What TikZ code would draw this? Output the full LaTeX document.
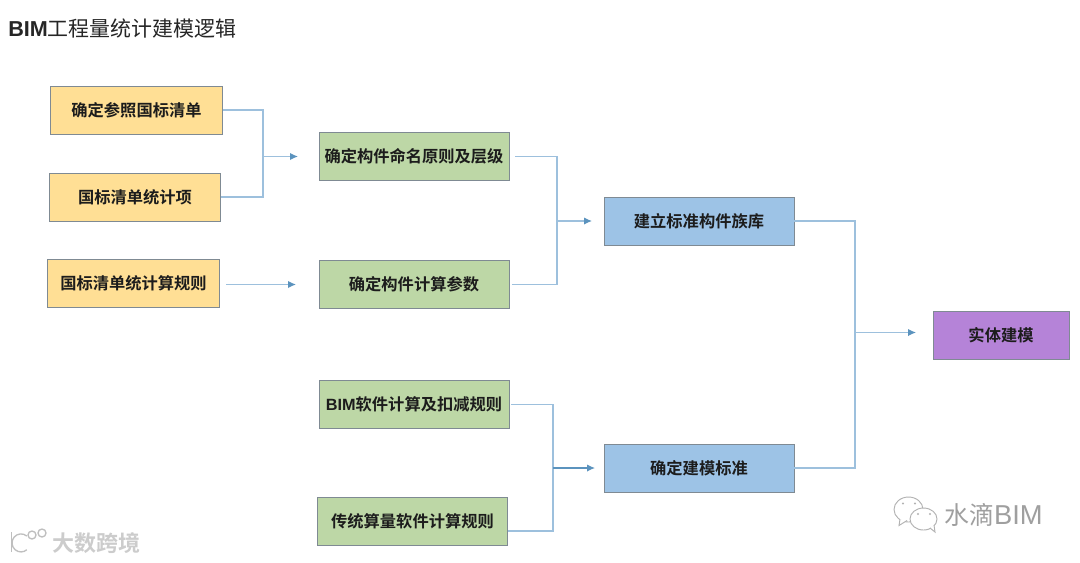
\documentclass[tikz,border=0pt]{standalone}
\usepackage{fontspec}
\setmainfont{Noto Sans CJK SC}
\newfontfamily\latinb{Liberation Sans}[BoldFont={Liberation Sans Bold}]
\newfontfamily\cjkb{Noto Sans CJK SC Bold}
\newfontfamily\cjkr{Noto Sans CJK SC}
\usetikzlibrary{arrows.meta}
\definecolor{yelfill}{HTML}{FFDF95}
\definecolor{grnfill}{HTML}{BDD7A6}
\definecolor{blufill}{HTML}{9DC3E6}
\definecolor{purfill}{HTML}{B583D8}
\definecolor{edgec}{HTML}{7F8A93}
\definecolor{linec}{HTML}{9DC0DD}
\definecolor{tipc}{HTML}{5B93BE}
\definecolor{txt}{HTML}{1C1C1C}
\tikzset{
  x=0.75pt,y=-0.75pt,
  boxbase/.style={draw=edgec,line width=0.7pt,inner sep=0pt,minimum height=36pt,font=\cjkb\fontsize{12.2pt}{14pt}\selectfont,text=txt},
  yel/.style={boxbase,fill=yelfill,minimum width=128.5pt},
  grn/.style={boxbase,fill=grnfill,minimum width=142.5pt},
  blu/.style={boxbase,fill=blufill,minimum width=142.5pt},
  pur/.style={boxbase,fill=purfill,minimum width=102pt},
  link/.style={draw=linec,line width=0.9pt},
  arrowlink/.style={link,-{Latex[length=6pt,width=5.5pt,color=tipc]}},
  wmtext/.style={inner sep=0pt,text=gray!75},
}
\begin{document}
\begin{tikzpicture}
\useasboundingbox (0,0) rectangle (1080,562);
\fill[white] (0,0) rectangle (1080,562);
\node[anchor=west,inner sep=0pt,text=black!85] (title) at (8,28) {{\latinb\bfseries\fontsize{16.2pt}{18pt}\selectfont BIM}{\cjkr\fontsize{15.7pt}{18pt}\selectfont 工程量统计建模逻辑}};
\node[yel] (a) at (136.5,110) {确定参照国标清单};
\node[yel] (b) at (135,197) {国标清单统计项};
\node[yel] (c) at (133.5,283) {\raisebox{-1.2pt}{国标清单统计算规则}};
\node[grn] (d) at (414,156.5) {确定构件命名原则及层级};
\node[grn] (e) at (414,284.5) {\raisebox{-1pt}{确定构件计算参数}};
\node[grn] (f) at (414,404.5) {{\latinb\bfseries BIM}软件计算及扣减规则};
\node[grn] (g) at (412.5,521) {\raisebox{-1.2pt}{传统算量软件计算规则}};
\node[blu] (h) at (699,221) {建立标准构件族库};
\node[blu] (i) at (699,468) {确定建模标准};
\node[pur] (j) at (1001,335) {实体建模};
\coordinate (t1) at (298,156.5);
\coordinate (s1) at (263,156.5);
\coordinate (s2) at (557,221);
\coordinate (s3) at (553,468);
\coordinate (s4) at (855,332.5);
\coordinate (t2) at (296,284.5);
\coordinate (c2) at (226,284.5);
\coordinate (t3) at (592,221);
\coordinate (t4) at (595,468);
\coordinate (t5) at (916,332.5);
\coordinate (d2) at (515,156.5);
\coordinate (e2) at (512,284.5);
\coordinate (f2) at (511,404.5);
\coordinate (g2) at (508,531);
\draw[link] (a.east) -| (s1) |- (b.east);
\draw[arrowlink] (s1) -- (t1);
\draw[arrowlink] (c2) -- (t2);
\draw[link] (d2) -| (s2) |- (e2);
\draw[arrowlink] (s2) -- (t3);
\draw[link] (f2) -| (s3) |- (g2);
\draw[arrowlink,draw=tipc] (s3) -- (t4);
\draw[link] (h.east) -| (s4) |- (i.east);
\draw[arrowlink] (s4) -- (t5);
% watermark, lower right
\begin{scope}[draw=gray!60,line width=0.7pt]
\draw[fill=white] (908.5,509.5) ellipse (14.5 and 12.5);
\draw[fill=white] (900,519) -- (899,525.5) -- (907,520.5);
\draw[fill=white] (923.5,519) ellipse (13.5 and 11);
\draw[fill=white] (930,528) -- (935,532) -- (934,525);
\fill[gray!60] (903,503.5) circle (1.2) (915,503.5) circle (1.2) (918,514) circle (1.1) (930,514) circle (1.1);
\end{scope}
\node[wmtext,anchor=west] (wm) at (944,515) {{\cjkr\fontsize{18.7pt}{20pt}\selectfont 水滴}{\latinb\fontsize{20.5pt}{22pt}\selectfont BIM}};
% watermark, lower left
\begin{scope}[draw=gray!50,line width=1pt]
\draw (11.5,532) -- (11.5,552);
\draw (26.8,536) arc (-50:-310:9);
\draw (32,535) circle (4);
\draw (42,533) circle (4);
\end{scope}
\node[anchor=west,inner sep=0pt,text=gray!40] (wl) at (52,543) {\cjkb\fontsize{16.5pt}{18pt}\selectfont 大数跨境};
\end{tikzpicture}
\end{document}
